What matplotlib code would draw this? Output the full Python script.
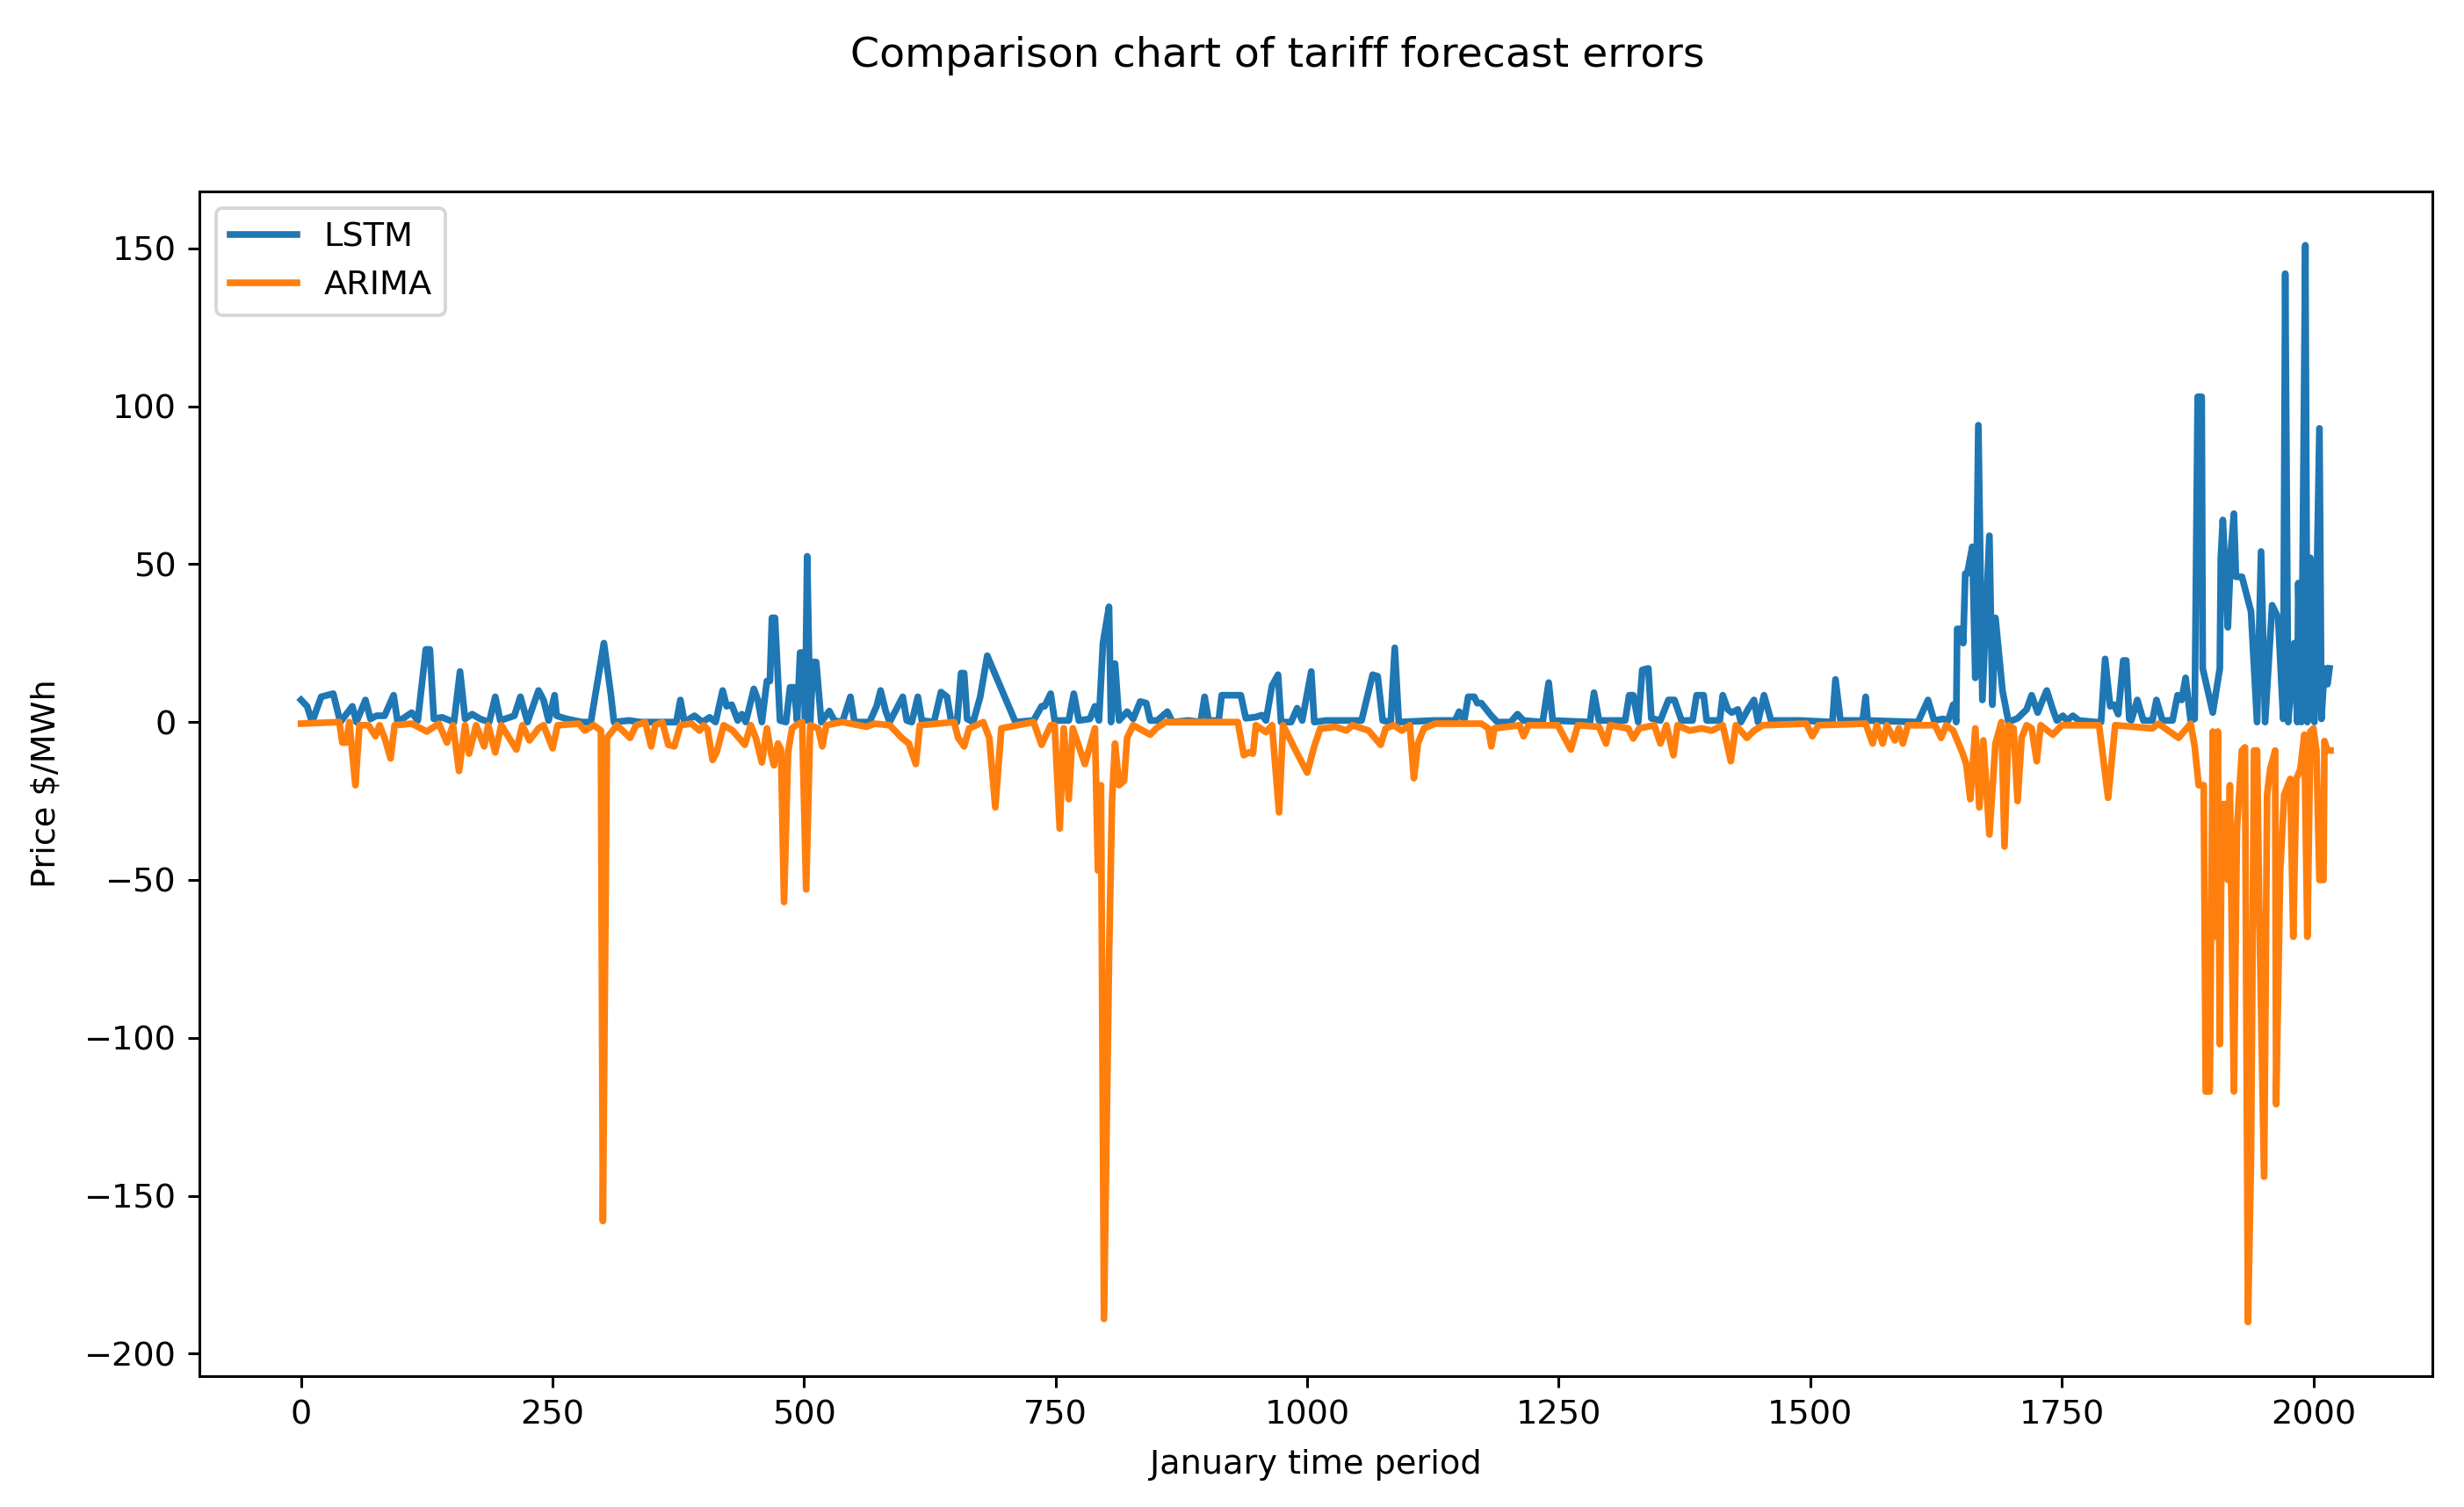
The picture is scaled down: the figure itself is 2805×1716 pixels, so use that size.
#!/usr/bin/env python
import matplotlib
matplotlib.use('Agg')
import matplotlib.pyplot as plt

# data (spike points only)
lstm_x = [0, 6, 11, 20, 32, 39, 51, 55, 64, 69, 75, 83, 92, 96, 110, 116, 124, 128, 132, 140,
          152, 158, 163, 170, 178, 187, 193, 198, 212, 218, 225, 236, 241, 246, 252, 254, 264, 279, 288, 301,
          308, 311, 326, 337, 345, 373, 377, 381, 391, 399, 406, 412, 419, 423, 428, 434, 438, 442, 450, 454,
          458, 463, 466, 468, 471, 476, 482, 486, 490, 493, 496, 499, 501, 503, 506, 509, 512, 517, 525, 530,
          538, 546, 550, 565, 572, 576, 581, 585, 598, 602, 607, 613, 617, 629, 636, 642, 646, 652, 656, 659,
          662, 668, 675, 682, 710, 728, 736, 739, 745, 749, 763, 768, 773, 784, 789, 793, 797, 803, 805, 809,
          813, 821, 827, 834, 840, 844, 851, 861, 866, 882, 894, 898, 902, 912, 915, 934, 939, 949, 955, 959,
          965, 971, 974, 984, 990, 995, 1004, 1007, 1019, 1030, 1054, 1065, 1070, 1075, 1083, 1087, 1091, 1126, 1147, 1151,
          1156, 1160, 1166, 1169, 1173, 1183, 1189, 1202, 1209, 1215, 1234, 1240, 1244, 1281, 1285, 1290, 1316, 1320, 1324, 1329,
          1333, 1339, 1342, 1351, 1359, 1365, 1372, 1383, 1387, 1394, 1397, 1410, 1413, 1418, 1422, 1428, 1431, 1438, 1444, 1448,
          1454, 1461, 1490, 1522, 1525, 1530, 1552, 1555, 1557, 1607, 1617, 1623, 1632, 1637, 1642, 1645, 1646, 1651, 1652, 1654,
          1656, 1661, 1664, 1667, 1671, 1678, 1681, 1684, 1691, 1697, 1706, 1715, 1720, 1726, 1731, 1735, 1741, 1745, 1751, 1755,
          1761, 1767, 1784, 1789, 1793, 1798, 1802, 1806, 1811, 1814, 1817, 1819, 1825, 1831, 1840, 1844, 1850, 1860, 1865, 1869,
          1873, 1878, 1882, 1885, 1889, 1890, 1900, 1907, 1908, 1910, 1915, 1918, 1921, 1923, 1929, 1938, 1944, 1948, 1952, 1959,
          1965, 1970, 1972, 1975, 1981, 1984, 1985, 1988, 1992, 1994, 1997, 2001, 2006, 2008, 2011, 2014, 2016]
lstm_y = [7, 5, 0, 8, 9, 0, 5, 0, 7, 1, 2, 2, 8.5, 0, 3, 0.5, 23, 23, 1, 1.5,
          0, 16, 1, 2.5, 1, 0, 8, 0.5, 2, 8, 0, 10, 7, 0.5, 8.5, 2, 1, 0, 0, 25,
          8.5, 0, 0.5, 0, 0, 0, 7, 0, 2, 0, 1.5, 0, 10, 5, 5.5, 0.5, 2.5, 0, 10.5, 7,
          0, 13, 13, 33, 33, 0.5, 0, 11, 11, 0.5, 22, 22, 0.5, 52.5, 0, 19, 19, 0, 3.5, 0.5,
          0, 8, 0, 0, 5, 10, 3.5, 0, 8, 0.5, 0, 8, 0.5, 0, 9.5, 8, 0.5, 0, 15.5, 15.5,
          1, 0, 8, 21, 0, 0.5, 5, 5, 9, 0.5, 0.5, 9, 0.5, 1, 5, 0.5, 25, 36.5, 0, 18.5,
          0.5, 3.3, 1, 6.5, 6, 0.5, 0.5, 3.3, 0, 0.5, 0, 8, 0.5, 0.5, 8.5, 8.5, 1.2, 1.6, 2.2, 0.5,
          11.5, 15, 0, 0, 4.4, 0.5, 16, 0, 0.5, 0.5, 0.5, 15, 14.5, 0.5, 0, 23.5, 0, 0.5, 0.5, 3.3,
          0.5, 8, 8, 6, 6, 2, 0, 0, 2.5, 0.5, 0, 12.5, 0.5, 0, 9.3, 0.5, 0.5, 8.5, 8.5, 0,
          16.5, 17, 1.2, 0.5, 7, 7, 0.5, 0.5, 8.5, 8.5, 0.5, 0.5, 8.5, 4, 3, 4, 0, 4, 7, 0,
          8.5, 0.5, 0.5, 0, 13.5, 0.5, 0.5, 8, 0.5, 0, 7, 0.5, 1, 0.5, 5.5, 0, 29.5, 29.5, 25, 47,
          47, 55.5, 14, 94, 7, 59, 5.5, 33, 10, 0, 1.2, 4, 8.5, 3, 7, 10, 4, 0.5, 2, 0.5,
          2, 0.5, 0, 0, 20, 5, 5.5, 2.5, 19.5, 19.5, 1, 0.5, 7, 0.5, 0.5, 7, 0.5, 0.5, 8.5, 7,
          14, 0.5, 1, 103, 103, 17, 3, 17, 52, 64, 30, 54, 66, 46, 46, 35, 0, 54, 0, 37,
          33, 1, 142, 0, 25, 0, 44, 0, 151, 0, 52, 0, 93, 1, 17, 12, 17]

arima_x = [0, 38, 41, 45, 48, 54, 58, 67, 74, 78, 83, 89, 93, 110, 125, 137, 145, 151, 157, 163,
           167, 174, 182, 186, 193, 199, 214, 220, 227, 236, 241, 250, 255, 276, 282, 291, 298, 300, 304, 314,
           327, 333, 338, 342, 348, 352, 359, 365, 371, 377, 388, 396, 400, 404, 409, 413, 420, 429, 441, 447,
           452, 458, 463, 467, 470, 474, 477, 480, 484, 488, 492, 498, 502, 506, 514, 518, 522, 538, 562, 570,
           585, 597, 604, 611, 615, 649, 653, 659, 664, 678, 684, 690, 696, 728, 736, 745, 749, 754, 758, 763,
           767, 779, 789, 792, 795, 798, 803, 806, 809, 813, 818, 821, 827, 844, 850, 859, 873, 931, 937, 942,
           946, 949, 959, 965, 972, 976, 988, 1000, 1007, 1013, 1016, 1028, 1039, 1045, 1061, 1073, 1078, 1086, 1094, 1102,
           1106, 1110, 1116, 1127, 1173, 1180, 1183, 1186, 1211, 1215, 1220, 1249, 1262, 1269, 1290, 1297, 1301, 1319, 1324, 1330,
           1345, 1351, 1357, 1364, 1368, 1380, 1392, 1402, 1413, 1421, 1426, 1437, 1444, 1453, 1496, 1502, 1508, 1555, 1562, 1566,
           1572, 1576, 1584, 1588, 1592, 1597, 1624, 1630, 1635, 1642, 1651, 1655, 1659, 1664, 1668, 1672, 1678, 1684, 1690, 1693,
           1697, 1702, 1706, 1710, 1715, 1720, 1725, 1729, 1741, 1750, 1787, 1796, 1803, 1840, 1846, 1866, 1878, 1882, 1886, 1891,
           1893, 1897, 1900, 1902, 1905, 1907, 1909, 1913, 1915, 1917, 1921, 1924, 1929, 1932, 1935, 1938, 1941, 1944, 1946, 1951,
           1954, 1957, 1962, 1963, 1967, 1971, 1977, 1980, 1983, 1987, 1991, 1994, 1997, 2000, 2003, 2006, 2010, 2011, 2014, 2017]
arima_y = [-0.5, 0, -6.5, -6.5, 0, -20, -1, -1, -4.5, -1, -5, -11.5, -1, -0.5, -3, -0.5, -6.5, -1, -15.5, -1,
           -10, -1, -7.7, -1, -9.6, -1, -8.7, -1, -5.8, -2, -1, -8.3, -1, -0.5, -2.7, -1, -2.7, -158, -5, -1,
           -5, -1, -0.5, 0, -7.7, -1, 0, -7.2, -7.7, -1, -0.5, -2.7, -1, -2.3, -12, -9.6, -1, -2.7, -7.2, -1,
           -5, -12.8, -2, -9.6, -13.7, -6.8, -8.7, -57, -9.6, -2, -1, 0, -53, -1, -2, -7.7, -1, 0, -1.5, -0.5,
           -1, -5, -6.8, -13.3, -1, 0, -5, -7.7, -2, 0, -5, -27, -2, 0, -7.2, -1, -1, -33.7, -2, -24.4,
           -2, -13.3, -2, -47, -20, -189, -75, -25, -6.8, -20, -18.6, -5, -1, -4, -2, 0, 0, 0, -10.5, -9.6,
           -10, -1, -3.2, -1, -28.6, -1, -8.7, -16, -7.7, -2, -2, -1.5, -2.7, -1, -2.7, -7.2, -2, -1, -2.7, -1,
           -17.8, -6.8, -2, -0.5, -0.5, -2, -7.7, -2, -1, -4.5, -1, -1, -8.7, -1, -1.5, -6.8, -1, -2, -5.2, -2,
           -1, -6.8, -1, -10.5, -1, -2.7, -2, -2.7, -1, -12.4, -1, -5, -2.7, -1, -0.5, -4.5, -1, -0.5, -6.8, -1,
           -6.8, -1, -5.8, -2, -6.8, -1, -1, -5, -1, -2.7, -9.6, -13.3, -24.4, -2, -27, -5.8, -35.6, -6.8, 0, -39.4,
           -1, -2, -25, -5, -1, -2, -12.4, -1, -4, -1, -1, -24, -1, -2, -0.5, -5, -0.5, -7.7, -20, -20,
           -117, -117, -3, -68, -3, -102, -26, -26, -50, -20, -117, -34, -9, -8, -190, -138, -9, -9, -55, -144,
           -23, -15, -9, -121, -47, -23, -18, -68, -18, -15, -4, -68, -3, -2, -9, -50, -50, -6, -9, -9]

# plot
fig, ax = plt.subplots(figsize=(2805 / 275, 1716 / 275), dpi=275)
fig.subplots_adjust(left=0.081, right=0.987, bottom=0.087, top=0.873)

ax.plot(lstm_x, lstm_y, '-', color='tab:blue', linewidth=2, label='LSTM')
ax.plot(arima_x, arima_y, '-', color='tab:orange', linewidth=2, label='ARIMA')

ax.set_xlabel('January time period', labelpad=5.5)
ax.set_ylabel('Price \\$/MWh', labelpad=6.5)
fig.suptitle('Comparison chart of tariff forecast errors', x=0.5185, y=0.976, fontsize=12.4)
ax.legend(loc='upper left')

fig.savefig('out.png', dpi=275)
